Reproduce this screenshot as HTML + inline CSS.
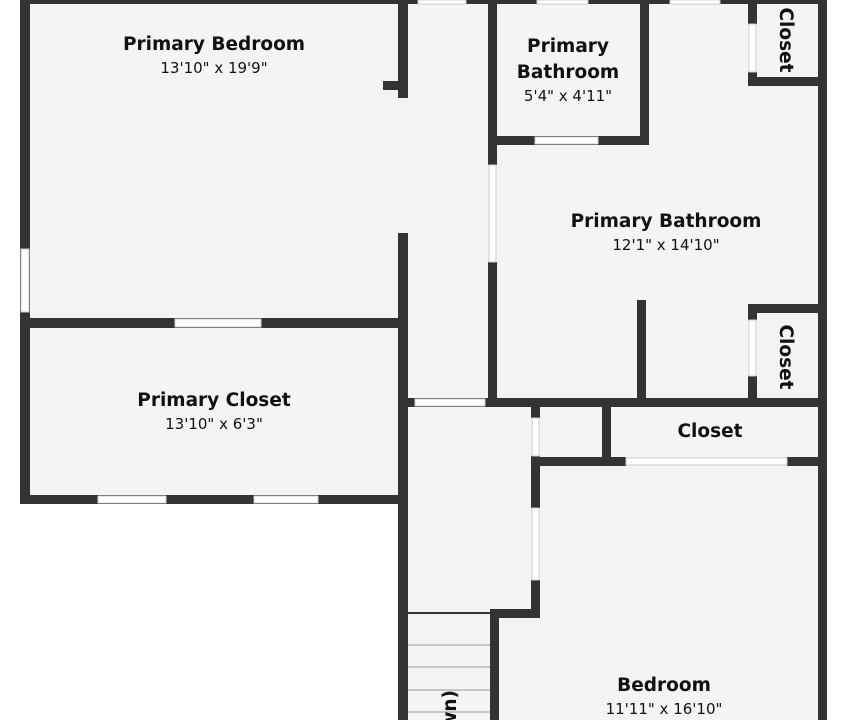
<!DOCTYPE html>
<html><head><meta charset="utf-8"><style>
html,body{margin:0;padding:0;background:#fff;overflow:hidden;width:847px;height:720px}
svg{display:block}
text{font-family:"DejaVu Sans","Liberation Sans",sans-serif;fill:#111;text-anchor:middle}
.t{font-weight:bold;font-size:18.5px}
.d{font-size:15px}
</style></head><body>
<svg width="847" height="720" viewBox="0 0 847 720" xmlns="http://www.w3.org/2000/svg">
<rect width="847" height="720" fill="#fff"/>
<rect x="25" y="0" width="798" height="500" fill="#f4f4f4"/>
<rect x="402" y="500" width="421" height="220" fill="#f4f4f4"/>
<g fill="#333">
<rect x="20" y="0" width="10" height="504"/>
<rect x="20" y="0" width="807" height="4"/>
<rect x="818" y="0" width="9" height="720"/>
<rect x="20" y="495" width="388" height="9"/>
<rect x="20" y="318" width="388" height="10"/>
<rect x="398" y="0" width="10" height="98"/>
<rect x="383" y="81" width="15" height="9"/>
<rect x="398" y="233" width="10" height="487"/>
<rect x="488" y="0" width="9" height="165"/>
<rect x="488" y="262" width="9" height="145"/>
<rect x="488" y="136" width="161" height="9"/>
<rect x="640" y="0" width="9" height="145"/>
<rect x="748" y="0" width="9" height="24"/>
<rect x="748" y="72" width="9" height="13"/>
<rect x="748" y="77" width="79" height="9"/>
<rect x="748" y="304" width="79" height="9"/>
<rect x="748" y="304" width="9" height="16"/>
<rect x="748" y="376" width="9" height="25"/>
<rect x="637" y="300" width="9" height="101"/>
<rect x="398" y="398" width="429" height="9"/>
<rect x="531" y="398" width="9" height="20"/>
<rect x="531" y="456" width="9" height="52"/>
<rect x="531" y="580" width="9" height="38"/>
<rect x="490" y="609" width="50" height="9"/>
<rect x="490" y="609" width="9" height="111"/>
<rect x="602" y="398" width="9" height="68"/>
<rect x="531" y="457" width="95" height="9"/>
<rect x="787" y="457" width="40" height="9"/>
</g>
<g fill="#fff" stroke="#ccc" stroke-width="1">
<rect x="175" y="319" width="86" height="8"/>
<rect x="21" y="249" width="8" height="63"/>
<rect x="98" y="496" width="68" height="7"/>
<rect x="254" y="496" width="64" height="7"/>
<rect x="489" y="165" width="7" height="97"/>
<rect x="535" y="137" width="63" height="7"/>
<rect x="749" y="24" width="7" height="48"/>
<rect x="749" y="320" width="7" height="56"/>
<rect x="415" y="399" width="70" height="7"/>
<rect x="532" y="418" width="7" height="38"/>
<rect x="532" y="508" width="7" height="72"/>
<rect x="626" y="458" width="161" height="7"/>
<rect x="418" y="0" width="48" height="4"/>
<rect x="537" y="0" width="51" height="4"/>
<rect x="670" y="0" width="50" height="4"/>
</g>
<g stroke="#999" stroke-width="1">
<line x1="408" y1="645" x2="490" y2="645"/>
<line x1="408" y1="667" x2="490" y2="667"/>
<line x1="408" y1="690" x2="490" y2="690"/>
<line x1="408" y1="712" x2="490" y2="712"/>
</g>
<rect x="408" y="612" width="82" height="2" fill="#333"/>
<text class="t" x="214" y="50">Primary Bedroom</text>
<text class="d" x="214" y="73">13'10" x 19'9"</text>
<text class="t" x="214" y="406">Primary Closet</text>
<text class="d" x="214" y="429">13'10" x 6'3"</text>
<text class="t" x="568" y="52">Primary</text>
<text class="t" x="568" y="78">Bathroom</text>
<text class="d" x="568" y="101">5'4" x 4'11"</text>
<text class="t" x="666" y="227">Primary Bathroom</text>
<text class="d" x="666" y="250">12'1" x 14'10"</text>
<text class="t" x="710" y="437">Closet</text>
<text class="t" x="664" y="691">Bedroom</text>
<text class="d" x="664" y="714">11'11" x 16'10"</text>
<text class="t" transform="translate(780,40) rotate(90)">Closet</text>
<text class="t" transform="translate(780,357) rotate(90)">Closet</text>
<text class="t" style="text-anchor:end" transform="translate(456,690) rotate(-90)">Stairs (Down)</text>
</svg>
</body></html>
